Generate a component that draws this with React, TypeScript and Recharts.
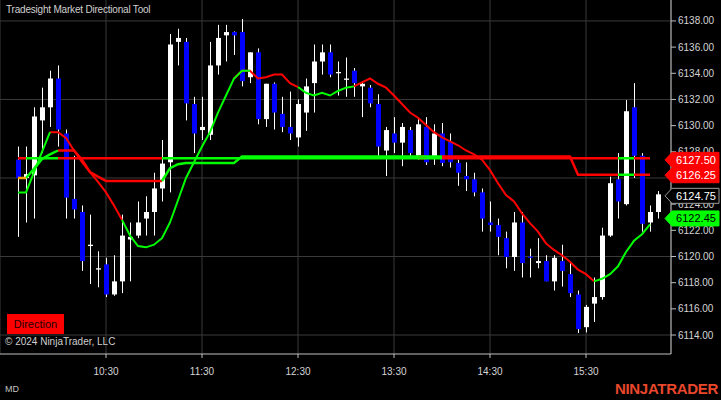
import React from "react";
import { Bar, CartesianGrid, ComposedChart, Line, ReferenceLine, XAxis, YAxis } from "recharts";

const times = (
  "9:35 9:40 9:45 9:50 9:55 10:00 10:05 10:10 10:15 10:20 10:25 10:30 10:35 10:40 10:45 10:50 10:55 " +
  "11:00 11:05 11:10 11:15 11:20 11:25 11:30 11:35 11:40 11:45 11:50 11:55 12:00 12:05 12:10 12:15 12:20 12:25 " +
  "12:30 12:35 12:40 12:45 12:50 12:55 13:00 13:05 13:10 13:15 13:20 13:25 13:30 13:35 13:40 13:45 13:50 13:55 " +
  "14:00 14:05 14:10 14:15 14:20 14:25 14:30 14:35 14:40 14:45 14:50 14:55 15:00 15:05 15:10 15:15 15:20 15:25 " +
  "15:30 15:35 15:40 15:45 15:50 15:55 16:00 16:05 16:10 16:15"
).split(" ");

const timeTicks = ["10:30", "11:30", "12:30", "13:30", "14:30", "15:30"];
const priceTicks = [6114, 6116, 6118, 6120, 6122, 6124, 6126, 6128, 6130, 6132, 6134, 6136, 6138];
const gridPrices = [6114, 6120, 6126, 6132, 6138];

const opens = [
  6127.4, 6126.0, 6126.2, 6130.4, 6131.4, 6133.6, 6129.4, 6124.4, 6123.4, 6120.8,
  6119.0, 6119.4, 6117.1, 6118.1, 6121.3, 6121.6, 6122.9, 6123.4, 6125.2, 6127.2,
  6136.4, 6136.4, 6131.65, 6129.66, 6129.3, 6134.6, 6136.9, 6137.15, 6137.15, 6133.7,
  6135.6, 6130.5, 6133.2, 6130.9, 6129.9, 6129.1, 6131.0, 6133.25, 6134.9, 6135.6,
  6134.0, 6133.5, 6134.2, 6133.0, 6132.9, 6131.65, 6128.1, 6129.4, 6128.7, 6129.66,
  6127.7, 6129.9, 6127.6, 6129.4, 6128.75, 6127.15, 6126.15, 6125.9, 6124.9, 6122.6,
  6122.4, 6121.4, 6119.96, 6122.6, 6120.0, 6119.5, 6119.65, 6118.1, 6119.65, 6118.65,
  6117.1, 6114.6, 6116.4, 6116.9, 6121.6, 6125.9, 6124.0, 6131.4, 6127.7, 6122.6,
  6123.4,
];
const highs = [
  6128.4, 6128.4, 6131.4, 6132.9, 6134.2, 6134.6, 6129.7, 6127.7, 6123.9, 6123.2,
  6120.4, 6119.9, 6120.1, 6123.2, 6122.6, 6124.2, 6124.6, 6126.4, 6128.9, 6137.0,
  6137.4, 6136.7, 6132.2, 6132.2, 6136.4, 6137.7, 6137.7, 6137.2, 6138.15, 6135.6,
  6135.9, 6133.2, 6133.3, 6132.2, 6132.6, 6132.0, 6133.6, 6136.2, 6136.2, 6136.2,
  6134.9, 6135.2, 6134.4, 6133.3, 6133.1, 6132.4, 6129.9, 6130.65, 6130.2, 6129.9,
  6130.65, 6130.65, 6130.1, 6130.2, 6129.4, 6127.4, 6127.2, 6126.4, 6125.2, 6124.2,
  6122.9, 6121.9, 6123.4, 6123.4, 6120.6, 6121.4, 6120.1, 6120.1, 6120.9, 6119.5,
  6117.4, 6116.3, 6118.4, 6122.2, 6126.1, 6127.9, 6131.95, 6133.25, 6127.9, 6123.9,
  6125.0,
];
const lows = [
  6121.5, 6122.6, 6122.9, 6127.9, 6129.9, 6128.4, 6122.9, 6122.9, 6118.9, 6117.9,
  6117.65, 6116.9, 6117.0, 6117.2, 6118.1, 6121.4, 6121.6, 6121.6, 6124.2, 6124.9,
  6134.6, 6130.4, 6127.9, 6128.9, 6128.9, 6133.9, 6134.9, 6135.4, 6133.0, 6133.25,
  6130.1, 6129.9, 6129.7, 6129.5, 6128.9, 6128.4, 6129.6, 6131.0, 6133.9, 6133.7,
  6132.3, 6132.2, 6132.2, 6130.65, 6131.4, 6127.6, 6126.15, 6127.9, 6126.9, 6127.5,
  6127.4, 6127.0, 6127.0, 6126.9, 6126.8, 6125.4, 6125.0, 6124.6, 6121.9, 6121.9,
  6120.1, 6119.1, 6118.9, 6118.4, 6118.4, 6119.1, 6118.1, 6117.4, 6117.7, 6116.9,
  6114.15, 6114.2, 6115.0, 6116.7, 6121.5, 6122.9, 6123.9, 6126.0, 6121.9, 6121.9,
  6122.9,
];
const closes = [
  6126.0, 6126.3, 6130.7, 6131.4, 6133.6, 6129.7, 6124.5, 6123.6, 6119.65, 6120.9,
  6119.1, 6117.1, 6118.1, 6121.6, 6121.5, 6122.6, 6123.4, 6125.2, 6127.1, 6136.2,
  6136.7, 6131.7, 6129.4, 6129.9, 6134.6, 6136.7, 6137.15, 6136.9, 6133.4, 6135.6,
  6130.5, 6133.2, 6131.0, 6129.9, 6129.4, 6131.65, 6133.0, 6134.9, 6135.6, 6133.9,
  6134.1, 6133.6, 6133.25, 6133.2, 6131.7, 6128.4, 6129.66, 6128.7, 6129.9, 6127.9,
  6130.1, 6127.2, 6129.4, 6127.15, 6127.2, 6126.4, 6125.9, 6124.9, 6122.9, 6122.4,
  6121.5, 6119.96, 6122.6, 6119.5, 6119.9, 6119.65, 6118.1, 6119.9, 6118.9, 6117.2,
  6114.45, 6116.15, 6116.9, 6121.6, 6125.6, 6124.2, 6131.1, 6127.7, 6122.5, 6123.4,
  6124.75,
];

// fast trend line
const trendFast = [
  6124.9, 6124.9, 6126.45, 6128.0, 6129.5, 6129.5, 6129.05, 6128.1, 6127.2, 6126.45,
  6125.7, 6124.9, 6123.9, 6122.8, 6121.6, 6120.8, 6120.7, 6120.9, 6121.4, 6122.6,
  6124.3, 6126.0, 6127.2, 6128.4, 6129.5, 6131.0, 6132.3, 6133.6, 6134.2, 6134.2,
  6133.6, 6133.7, 6133.9, 6133.9, 6133.25, 6132.95, 6132.5, 6132.3, 6132.5, 6132.3,
  6132.65, 6132.9, 6133.0, 6133.3, 6133.6, 6133.2, 6132.9, 6132.3, 6131.65, 6131.0,
  6130.6, 6130.05, 6129.5, 6129.1, 6128.8, 6128.5, 6128.1, 6127.8, 6127.4, 6126.6,
  6125.6, 6124.7, 6124.2, 6123.3, 6122.55, 6121.9, 6121.0, 6120.5, 6120.1, 6119.6,
  6119.0, 6118.65, 6118.1, 6118.3, 6118.65, 6119.25, 6120.35, 6121.2, 6121.7, 6122.45,
];
// stop level
const stopLevel = [
  6126.0, 6126.0, 6126.7, 6127.45, 6127.8, 6128.1, 6128.1, 6128.1, 6127.4, 6126.45,
  6126.1, 6125.77, 6125.77, 6125.77, 6125.77, 6125.77, 6125.77, 6125.77, 6125.77, 6126.75,
  6127.05, 6127.15, 6127.15, 6127.15, 6127.15, 6127.15, 6127.15, 6127.15, 6127.65, 6127.65,
  6127.65, 6127.65, 6127.65, 6127.65, 6127.65, 6127.65, 6127.65, 6127.65, 6127.65, 6127.65,
  6127.65, 6127.65, 6127.65, 6127.65, 6127.65, 6127.65, 6127.65, 6127.65, 6127.65, 6127.65,
  6127.65, 6127.65, 6127.65, 6127.65, 6127.65, 6127.65, 6127.65, 6127.65, 6127.65, 6127.65,
  6127.65, 6127.65, 6127.65, 6127.65, 6127.65, 6127.65, 6127.65, 6127.65, 6127.65, 6127.65,
  6126.25, 6126.25, 6126.25, 6126.25, 6126.25, 6126.25, 6126.25, 6126.25, 6126.25, 6126.25,
];
// direction level
const directionLevel = [
  6127.5, 6127.5, 6127.5, 6127.5, 6127.5, 6127.5, 6127.5, 6127.5, 6127.5, 6127.5,
  6127.5, 6127.5, 6127.5, 6127.5, 6127.5, 6127.5, 6127.5, 6127.5, 6127.5, 6127.5,
  6127.5, 6127.5, 6127.5, 6127.5, 6127.5, 6127.5, 6127.5, 6127.5, 6127.5, 6127.5,
  6127.5, 6127.5, 6127.5, 6127.5, 6127.5, 6127.5, 6127.5, 6127.5, 6127.5, 6127.5,
  6127.5, 6127.5, 6127.5, 6127.5, 6127.5, 6127.5, 6127.5, 6127.5, 6127.5, 6127.5,
  6127.5, 6127.5, 6127.5, 6127.5, 6127.5, 6127.5, 6127.5, 6127.5, 6127.5, 6127.5,
  6127.5, 6127.5, 6127.5, 6127.5, 6127.5, 6127.5, 6127.5, 6127.5, 6127.5, 6127.5,
  6127.5, 6127.5, 6127.5, 6127.5, 6127.5, 6127.5, 6127.5, 6127.5, 6127.5, 6127.5,
];

// segment colours as runs: [colour, count]
const fastRuns: [string, number][] = [["g", 4], ["r", 9], ["g", 14], ["r", 1], ["g", 1], ["r", 6], ["g", 7], ["r", 30], ["g", 7]];
const dirRuns: [string, number][] = [["x", 1], ["g", 4], ["r", 13], ["g", 32], ["r", 1], ["g", 2], ["r", 22], ["g", 2], ["r", 2]];

const RED = "#ff0000";
const GREEN = "#00ff00";
const ORANGE = "#ffa500";

const expand = (runs: [string, number][]) => runs.flatMap(([c, n]) => Array(n).fill(c));
const fastSegs = expand(fastRuns);
const stopSegs = expand(dirRuns).map((c) => (c === "x" ? "o" : c));
const dirSegs = expand(dirRuns).map((c) => (c === "x" ? "r" : c));

const pick = (vals: number[], segs: string[], c: string) =>
  times.map((_, i) => {
    const v = vals[i];
    if (v == null) return null;
    return (i > 0 && segs[i - 1] === c) || segs[i] === c ? v : null;
  });

const series = {
  fast_r: pick(trendFast, fastSegs, "r"),
  fast_g: pick(trendFast, fastSegs, "g"),
  stop_r: pick(stopLevel, stopSegs, "r"),
  stop_g: pick(stopLevel, stopSegs, "g"),
  stop_o: pick(stopLevel, stopSegs, "o"),
  dir_r: pick(directionLevel, dirSegs, "r"),
  dir_g: pick(directionLevel, dirSegs, "g"),
};

const data = times.map((t, i) => {
  const row: any = {
    time: t,
    open: opens[i],
    high: highs[i],
    low: lows[i],
    close: closes[i],
    range: [lows[i], highs[i]],
  };
  for (const [k, arr] of Object.entries(series)) row[k] = arr[i];
  return row;
});

const FONT = "Arial, 'Liberation Sans', sans-serif";

const Candle = (props: any) => {
  const { x, y, width, height, payload } = props;
  if (x == null || !payload) return null;
  const top = Math.min(y, y + height);
  const bottom = Math.max(y, y + height);
  const { open, close, high, low } = payload;
  const k = high === low ? 0 : (bottom - top) / (high - low);
  const py = (v: number) => top + (high - v) * k;
  const cx = Math.round(x + width / 2) + 0.5;
  const bTop = py(Math.max(open, close));
  const bBot = py(Math.min(open, close));
  const up = close >= open;
  return (
    <g>
      <line x1={cx} x2={cx} y1={top} y2={bottom} stroke="#ffffff" strokeWidth={1} />
      <rect x={cx - 2.5} y={bTop} width={5} height={Math.max(1, bBot - bTop)} fill={up ? "#ffffff" : "#0000ff"} />
    </g>
  );
};

const Flag = ({ viewBox, text, fill, color, border, dy = 0 }: any) => {
  if (!viewBox) return null;
  const tip = viewBox.x + viewBox.width - 6;
  const cy = viewBox.y + dy;
  const h = 7.5;
  const pts = `${tip},${cy} ${tip + 7},${cy - h} ${tip + 54},${cy - h} ${tip + 54},${cy + h} ${tip + 7},${cy + h}`;
  return (
    <g>
      <polygon points={pts} fill={fill} stroke={border || fill} strokeWidth={1} />
      <text x={tip + 31} y={cy + 4} textAnchor="middle" fill={color} fontSize={11} fontFamily={FONT}>
        {text}
      </text>
    </g>
  );
};

const flags = [
  { value: 6127.5, text: "6127.50", fill: RED, color: "#ffffff", dy: 1.5 },
  { value: 6126.25, text: "6126.25", fill: RED, color: "#ffffff", dy: 0.5 },
  { value: 6124.75, text: "6124.75", fill: "#000000", color: "#ffffff", border: "#9a9a9a", dy: 1.5 },
  { value: 6122.45, text: "6122.45", fill: GREEN, color: "#000000", dy: -6 },
];

export default function App() {
  return (
    <div style={{ position: "absolute", left: 0, top: 0, width: 721, height: 400, background: "#000", overflow: "hidden", fontFamily: FONT }}>
      <ComposedChart width={721} height={400} data={data} margin={{ top: 0, right: 0, left: 0, bottom: 0 }}>
        <CartesianGrid stroke="#3a3a3a" horizontalValues={gridPrices} />
        <XAxis
          dataKey="time"
          ticks={timeTicks}
          interval={0}
          height={46}
          padding={{ left: 14, right: 9 }}
          stroke="#c0c0c0"
          tickSize={4}
          tick={{ fill: "#d4d4d4", fontSize: 10, fontFamily: FONT, dy: 8 }}
        />
        <YAxis
          orientation="right"
          width={50}
          domain={[6112.55, 6139.6]}
          allowDataOverflow
          ticks={priceTicks}
          interval={0}
          tickFormatter={(v: number) => v.toFixed(2)}
          stroke="#c0c0c0"
          tickSize={5}
          tick={{ fill: "#d4d4d4", fontSize: 10, fontFamily: FONT, textAnchor: "start" }}
        />
        <Bar dataKey="range" shape={<Candle />} isAnimationActive={false} activeBar={false} />
        <Line dataKey="dir_r" stroke={RED} strokeWidth={2.5} dot={false} activeDot={false} isAnimationActive={false} />
        <Line dataKey="dir_g" stroke={GREEN} strokeWidth={2.5} dot={false} activeDot={false} isAnimationActive={false} />
        <Line dataKey="stop_r" stroke={RED} strokeWidth={2.5} dot={false} activeDot={false} isAnimationActive={false} />
        <Line dataKey="stop_g" stroke={GREEN} strokeWidth={2.5} dot={false} activeDot={false} isAnimationActive={false} />
        <Line dataKey="stop_o" stroke={ORANGE} strokeWidth={2.5} dot={false} activeDot={false} isAnimationActive={false} />
        <Line dataKey="fast_r" stroke={RED} strokeWidth={2} dot={false} activeDot={false} isAnimationActive={false} />
        <Line dataKey="fast_g" stroke={GREEN} strokeWidth={2} dot={false} activeDot={false} isAnimationActive={false} />
        {flags.map((f) => (
          <ReferenceLine
            key={f.text}
            y={f.value}
            stroke="none"
            isFront
            zIndex={3000}
            label={(p: any) => <Flag {...p} text={f.text} fill={f.fill} color={f.color} border={f.border} dy={f.dy} />}
          />
        ))}
      </ComposedChart>
      <div style={{ position: "absolute", left: 6, top: 4, fontSize: 10, letterSpacing: -0.2, color: "#d0d0d0", whiteSpace: "nowrap" }}>
        Tradesight Market Directional Tool
      </div>
      <div
        style={{
          position: "absolute", left: 7, top: 314, width: 57, height: 20, background: "#ff0000",
          color: "#220000", fontSize: 11, lineHeight: "20px", textAlign: "center",
        }}
      >
        Direction
      </div>
      <div style={{ position: "absolute", left: 5, top: 336, fontSize: 10, color: "#d0d0d0", whiteSpace: "nowrap" }}>
        © 2024 NinjaTrader, LLC
      </div>
      <div style={{ position: "absolute", left: 5, top: 384, fontSize: 9, color: "#c0c0c0" }}>MD</div>
      <div
        style={{
          position: "absolute", right: 3, top: 380, fontSize: 15, fontWeight: 700, color: "#e8472b",
          whiteSpace: "nowrap", letterSpacing: -0.3,
        }}
      >
        NINJATRADER
      </div>
    </div>
  );
}
